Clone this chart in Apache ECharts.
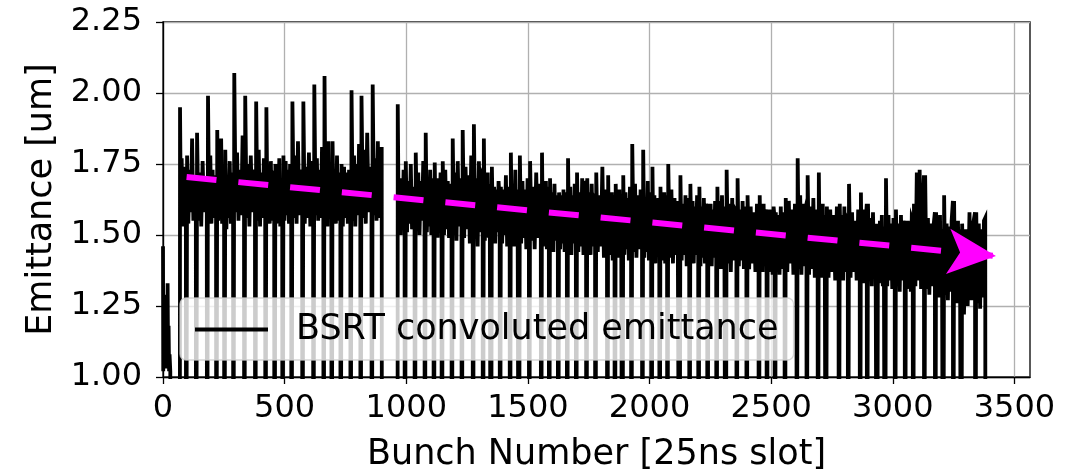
<!DOCTYPE html>
<html>
<head>
<meta charset="utf-8">
<script src="https://cdn.jsdelivr.net/npm/echarts@6/dist/echarts.min.js"></script>
<style>
  html, body { margin: 0; padding: 0; background: #fff; }
  #chart { width: 1073px; height: 473px; }
</style>
</head>
<body>
<div id="chart"></div>
<script>
// Emittance per bunch slot, measured by the BSRT (convoluted), one line over the whole ring.
const SERIES_NAME = 'BSRT convoluted emittance';
const EMPTY_SLOT = 0;            // empty buckets (no beam) read as zero

// Pilot / individual bunches at the start of the ring
const pilotBunch = [0, 1, 3, 5, 7, 9, 11, 13, 15, 17, 19, 21, 23, 25, 27, 30, 32];
const pilotValue = [1.46, 1.02, 1.27, 1.04, 1.29, 1.06, 1.24, 1.03, 1.22, 1.05, 1.33, 1.04, 1.18, 1.02, 1.08, 1.02, 0];

// Bunch trains: first and last filled slot of each train
const trainStart = [
  70, 99, 140, 185, 223, 256, 293, 338, 383, 425, 462, 495, 532, 577, 622, 664, 697, 734, 775, 816, 862,
  965, 998, 1039, 1080, 1117, 1150, 1191, 1232, 1278, 1319, 1352, 1389, 1430, 1467, 1509, 1558, 1591, 1628, 1665, 1702,
  1744, 1781, 1830, 1861, 1892, 1929, 1974, 2012, 2045, 2077, 2127, 2168, 2205, 2242, 2279,
  2317, 2362, 2403, 2453, 2486, 2519, 2560, 2609, 2650, 2696, 2729, 2782, 2820, 2869,
  2898, 2939, 2972, 3013, 3054, 3087, 3133, 3178, 3211, 3252, 3285, 3343
];
const trainEnd = [
  94, 135, 180, 218, 251, 288, 333, 378, 420, 457, 490, 527, 572, 617, 659, 692, 729, 770, 811, 857, 899,
  993, 1034, 1075, 1112, 1145, 1186, 1227, 1273, 1314, 1347, 1384, 1425, 1462, 1504, 1553, 1586, 1623, 1660, 1697, 1739,
  1776, 1825, 1856, 1887, 1924, 1969, 2007, 2040, 2072, 2122, 2163, 2200, 2237, 2274, 2312,
  2357, 2398, 2448, 2481, 2514, 2555, 2604, 2645, 2691, 2724, 2777, 2815, 2864, 2893,
  2934, 2967, 3008, 3049, 3082, 3128, 3173, 3206, 3247, 3280, 3338, 3380
];

// Emittance [um] sampled along each train, first to last bunch
const trainValues = [
  [1.95, 1.56, 1.77, 1.53, 1.72, 1.57, 1.74, 1.62],
  [1.78, 1.54, 1.73, 1.58, 1.84, 1.55, 1.70, 1.63],
  [1.86, 1.55, 1.72, 1.53, 1.76, 1.58, 1.69, 1.64],
  [1.99, 1.57, 1.78, 1.54, 1.73, 1.56, 1.71, 1.66],
  [1.87, 1.55, 1.72, 1.57, 1.84, 1.54, 1.74, 1.65],
  [1.80, 1.52, 1.71, 1.56, 1.76, 1.54, 1.72, 1.66],
  [2.07, 1.58, 1.79, 1.55, 1.73, 1.57, 1.85, 1.64],
  [1.99, 1.56, 1.75, 1.53, 1.78, 1.58, 1.73, 1.67],
  [1.97, 1.55, 1.80, 1.53, 1.72, 1.56, 1.77, 1.65],
  [1.95, 1.57, 1.74, 1.54, 1.76, 1.55, 1.71, 1.70],
  [1.75, 1.54, 1.72, 1.56, 1.77, 1.53, 1.70, 1.68],
  [1.78, 1.55, 1.76, 1.57, 1.73, 1.54, 1.75, 1.66],
  [1.97, 1.56, 1.78, 1.54, 1.83, 1.57, 1.73, 1.67],
  [1.97, 1.54, 1.74, 1.56, 1.79, 1.53, 1.76, 1.68],
  [2.03, 1.57, 1.77, 1.55, 1.73, 1.56, 1.81, 1.69],
  [2.06, 1.55, 1.75, 1.53, 1.83, 1.58, 1.74, 1.66],
  [1.83, 1.56, 1.73, 1.54, 1.78, 1.55, 1.72, 1.65],
  [1.75, 1.53, 1.74, 1.56, 1.72, 1.54, 1.73, 1.67],
  [2.01, 1.55, 1.78, 1.53, 1.75, 1.57, 1.82, 1.66],
  [1.99, 1.56, 1.80, 1.54, 1.86, 1.58, 1.74, 1.70],
  [2.03, 1.57, 1.77, 1.55, 1.83, 1.56, 1.75, 1.81],

  [1.96, 1.52, 1.70, 1.50, 1.68, 1.54, 1.73, 1.62],
  [1.76, 1.51, 1.69, 1.54, 1.75, 1.52, 1.67, 1.63],
  [1.79, 1.53, 1.72, 1.50, 1.69, 1.55, 1.76, 1.64],
  [1.86, 1.51, 1.68, 1.53, 1.73, 1.50, 1.70, 1.65],
  [1.755, 1.52, 1.70, 1.49, 1.68, 1.54, 1.72, 1.62],
  [1.76, 1.50, 1.73, 1.52, 1.69, 1.49, 1.68, 1.64],
  [1.84, 1.51, 1.72, 1.48, 1.76, 1.53, 1.70, 1.66],
  [1.87, 1.49, 1.74, 1.52, 1.71, 1.47, 1.78, 1.65],
  [1.89, 1.50, 1.70, 1.46, 1.76, 1.51, 1.72, 1.71],
  [1.84, 1.48, 1.69, 1.51, 1.72, 1.49, 1.68, 1.68],
  [1.74, 1.49, 1.67, 1.47, 1.66, 1.51, 1.69, 1.62],
  [1.67, 1.47, 1.66, 1.50, 1.71, 1.46, 1.67, 1.63],
  [1.79, 1.49, 1.68, 1.46, 1.73, 1.48, 1.66, 1.66],
  [1.78, 1.47, 1.69, 1.49, 1.66, 1.45, 1.70, 1.63],
  [1.76, 1.48, 1.67, 1.45, 1.72, 1.49, 1.68, 1.62],
  [1.79, 1.46, 1.66, 1.48, 1.69, 1.45, 1.67, 1.64],
  [1.70, 1.47, 1.65, 1.44, 1.68, 1.48, 1.64, 1.60],
  [1.65, 1.45, 1.64, 1.47, 1.66, 1.44, 1.65, 1.61],
  [1.77, 1.46, 1.67, 1.43, 1.64, 1.47, 1.68, 1.63],
  [1.72, 1.44, 1.65, 1.46, 1.70, 1.43, 1.66, 1.69],

  [1.70, 1.45, 1.65, 1.43, 1.68, 1.46, 1.63, 1.62],
  [1.72, 1.44, 1.64, 1.46, 1.74, 1.42, 1.66, 1.60],
  [1.71, 1.43, 1.62, 1.45, 1.65, 1.41, 1.64, 1.59],
  [1.68, 1.45, 1.63, 1.42, 1.66, 1.44, 1.62, 1.62],
  [1.71, 1.43, 1.65, 1.45, 1.63, 1.41, 1.67, 1.60],
  [1.82, 1.44, 1.68, 1.42, 1.64, 1.45, 1.66, 1.63],
  [1.80, 1.42, 1.63, 1.44, 1.69, 1.41, 1.65, 1.62],
  [1.74, 1.43, 1.64, 1.40, 1.62, 1.44, 1.63, 1.59],
  [1.67, 1.41, 1.62, 1.43, 1.65, 1.40, 1.64, 1.60],
  [1.75, 1.42, 1.66, 1.40, 1.63, 1.43, 1.62, 1.62],
  [1.71, 1.41, 1.61, 1.43, 1.64, 1.39, 1.63, 1.58],
  [1.68, 1.42, 1.62, 1.40, 1.60, 1.43, 1.64, 1.59],
  [1.67, 1.39, 1.60, 1.42, 1.63, 1.40, 1.61, 1.57],
  [1.61, 1.41, 1.61, 1.39, 1.59, 1.42, 1.62, 1.58],
  [1.67, 1.40, 1.62, 1.38, 1.64, 1.41, 1.60, 1.60],

  [1.73, 1.40, 1.61, 1.37, 1.63, 1.41, 1.59, 1.58],
  [1.70, 1.39, 1.59, 1.41, 1.62, 1.38, 1.60, 1.56],
  [1.64, 1.38, 1.60, 1.40, 1.58, 1.37, 1.61, 1.57],
  [1.64, 1.40, 1.58, 1.37, 1.61, 1.39, 1.59, 1.55],
  [1.59, 1.37, 1.59, 1.39, 1.57, 1.36, 1.60, 1.56],
  [1.58, 1.39, 1.57, 1.36, 1.60, 1.38, 1.58, 1.54],
  [1.63, 1.37, 1.62, 1.40, 1.59, 1.36, 1.61, 1.58],
  [1.77, 1.38, 1.64, 1.36, 1.61, 1.39, 1.59, 1.61],
  [1.71, 1.36, 1.60, 1.38, 1.63, 1.35, 1.59, 1.56],
  [1.72, 1.37, 1.58, 1.35, 1.61, 1.38, 1.57, 1.57],
  [1.60, 1.35, 1.59, 1.37, 1.57, 1.34, 1.60, 1.56],
  [1.61, 1.36, 1.57, 1.34, 1.60, 1.37, 1.56, 1.55],
  [1.68, 1.35, 1.58, 1.37, 1.55, 1.34, 1.59, 1.55],
  [1.65, 1.36, 1.57, 1.33, 1.59, 1.35, 1.56, 1.61],

  [1.61, 1.34, 1.56, 1.32, 1.58, 1.35, 1.54, 1.54],
  [1.54, 1.33, 1.55, 1.35, 1.57, 1.32, 1.53, 1.53],
  [1.70, 1.32, 1.57, 1.34, 1.54, 1.31, 1.56, 1.53],
  [1.59, 1.33, 1.54, 1.30, 1.57, 1.34, 1.55, 1.52],
  [1.55, 1.31, 1.55, 1.33, 1.53, 1.30, 1.56, 1.55],
  [1.61, 1.32, 1.72, 1.34, 1.73, 1.31, 1.57, 1.71],
  [1.71, 1.31, 1.56, 1.29, 1.54, 1.32, 1.53, 1.58],
  [1.58, 1.30, 1.55, 1.28, 1.57, 1.31, 1.52, 1.52],
  [1.64, 1.29, 1.54, 1.27, 1.53, 1.30, 1.55, 1.62],
  [1.62, 1.28, 1.53, 1.26, 1.55, 1.29, 1.52, 1.52],
  [1.54, 1.22, 1.52, 1.25, 1.58, 1.27, 1.54, 1.58],
  [1.58, 1.26, 1.54, 1.24, 1.52, 1.28, 1.55, 1.56]
];

// Trend of the emittance along the ring (arrow from start to end)
const trendStart = [97, 1.704];
const trendEnd = [3424, 1.426];

// Axis ticks
const xTicks = [0, 500, 1000, 1500, 2000, 2500, 3000, 3500];

// Build the per-slot line: each train rises from the empty slot before it and falls back after it
const lineData = [];
pilotBunch.forEach((b, i) => lineData.push([b, pilotValue[i]]));
trainStart.forEach((s, k) => {
  const e = trainEnd[k];
  const vals = trainValues[k];
  lineData.push([s - 1, EMPTY_SLOT]);
  vals.forEach((v, i) => lineData.push([s + (e - s) * i / (vals.length - 1), v]));
  lineData.push([e + 1, EMPTY_SLOT]);
});

const FONT = 'DejaVu Sans';
const chart = echarts.init(document.getElementById('chart'), null, { renderer: 'canvas' });

chart.setOption({
  animation: false,
  backgroundColor: '#ffffff',
  grid: {
    left: 163, right: 43, top: 22, bottom: 96,
    containLabel: false, outerBoundsMode: 'none',
    show: true, borderColor: '#000', borderWidth: 1.3, backgroundColor: 'transparent'
  },
  legend: {
    data: [{ name: SERIES_NAME, icon: 'rect' }],
    left: 180, top: 298,
    padding: [14, 15, 13, 15],
    itemWidth: 73, itemHeight: 4,
    backgroundColor: 'rgba(255,255,255,0.8)',
    borderColor: 'rgba(204,204,204,0.8)', borderWidth: 1.3, borderRadius: 6,
    textStyle: { fontFamily: FONT, fontSize: 35, color: '#000', padding: [0, 0, 0, 23] }
  },
  xAxis: {
    type: 'value', min: 0, max: 3564,
    name: 'Bunch Number [25ns slot]', nameLocation: 'middle', nameGap: 60,
    nameTextStyle: { fontFamily: FONT, fontSize: 35, color: '#000' },
    axisLine: { show: true, onZero: false, lineStyle: { color: '#000', width: 1.3 } },
    axisTick: { show: true, inside: false, length: 7, customValues: xTicks, lineStyle: { color: '#000', width: 1.3 } },
    axisLabel: {
      margin: 16, customValues: xTicks, fontFamily: FONT, fontSize: 32, color: '#000',
      formatter: v => String(v)
    },
    splitLine: { show: true, lineStyle: { color: '#b0b0b0', width: 1.3 } }
  },
  yAxis: {
    type: 'value', min: 1.0, max: 2.25, interval: 0.25,
    name: 'Emittance [um]', nameLocation: 'middle', nameGap: 104, nameRotate: 90,
    nameTextStyle: { fontFamily: FONT, fontSize: 35, color: '#000' },
    axisLine: { show: true, onZero: false, lineStyle: { color: '#000', width: 1.3 } },
    axisTick: { show: true, inside: false, length: 7, lineStyle: { color: '#000', width: 1.3 } },
    axisLabel: {
      margin: 21, fontFamily: FONT, fontSize: 32, color: '#000',
      formatter: v => v.toFixed(2)
    },
    splitLine: { show: true, lineStyle: { color: '#b0b0b0', width: 1.3 } }
  },
  series: [
    {
      name: SERIES_NAME,
      type: 'line',
      data: lineData,
      color: '#000',
      symbol: 'none',
      showSymbol: false,
      clip: true,
      z: 2,
      itemStyle: { color: '#000' },
      lineStyle: { color: '#000', width: 3.8, join: 'miter' },
      emphasis: { disabled: true }
    },
    {
      name: 'trend',
      type: 'line',
      data: [],
      z: 3,
      markLine: {
        silent: true,
        animation: false,
        symbol: ['none', 'arrow'],
        symbolSize: [34, 48],
        label: { show: false },
        lineStyle: { color: '#ff00ff', width: 6, type: [30, 22], opacity: 1 },
        emphasis: { disabled: true },
        data: [[{ coord: trendStart }, { coord: trendEnd }]]
      }
    }
  ]
});
</script>
</body>
</html>
